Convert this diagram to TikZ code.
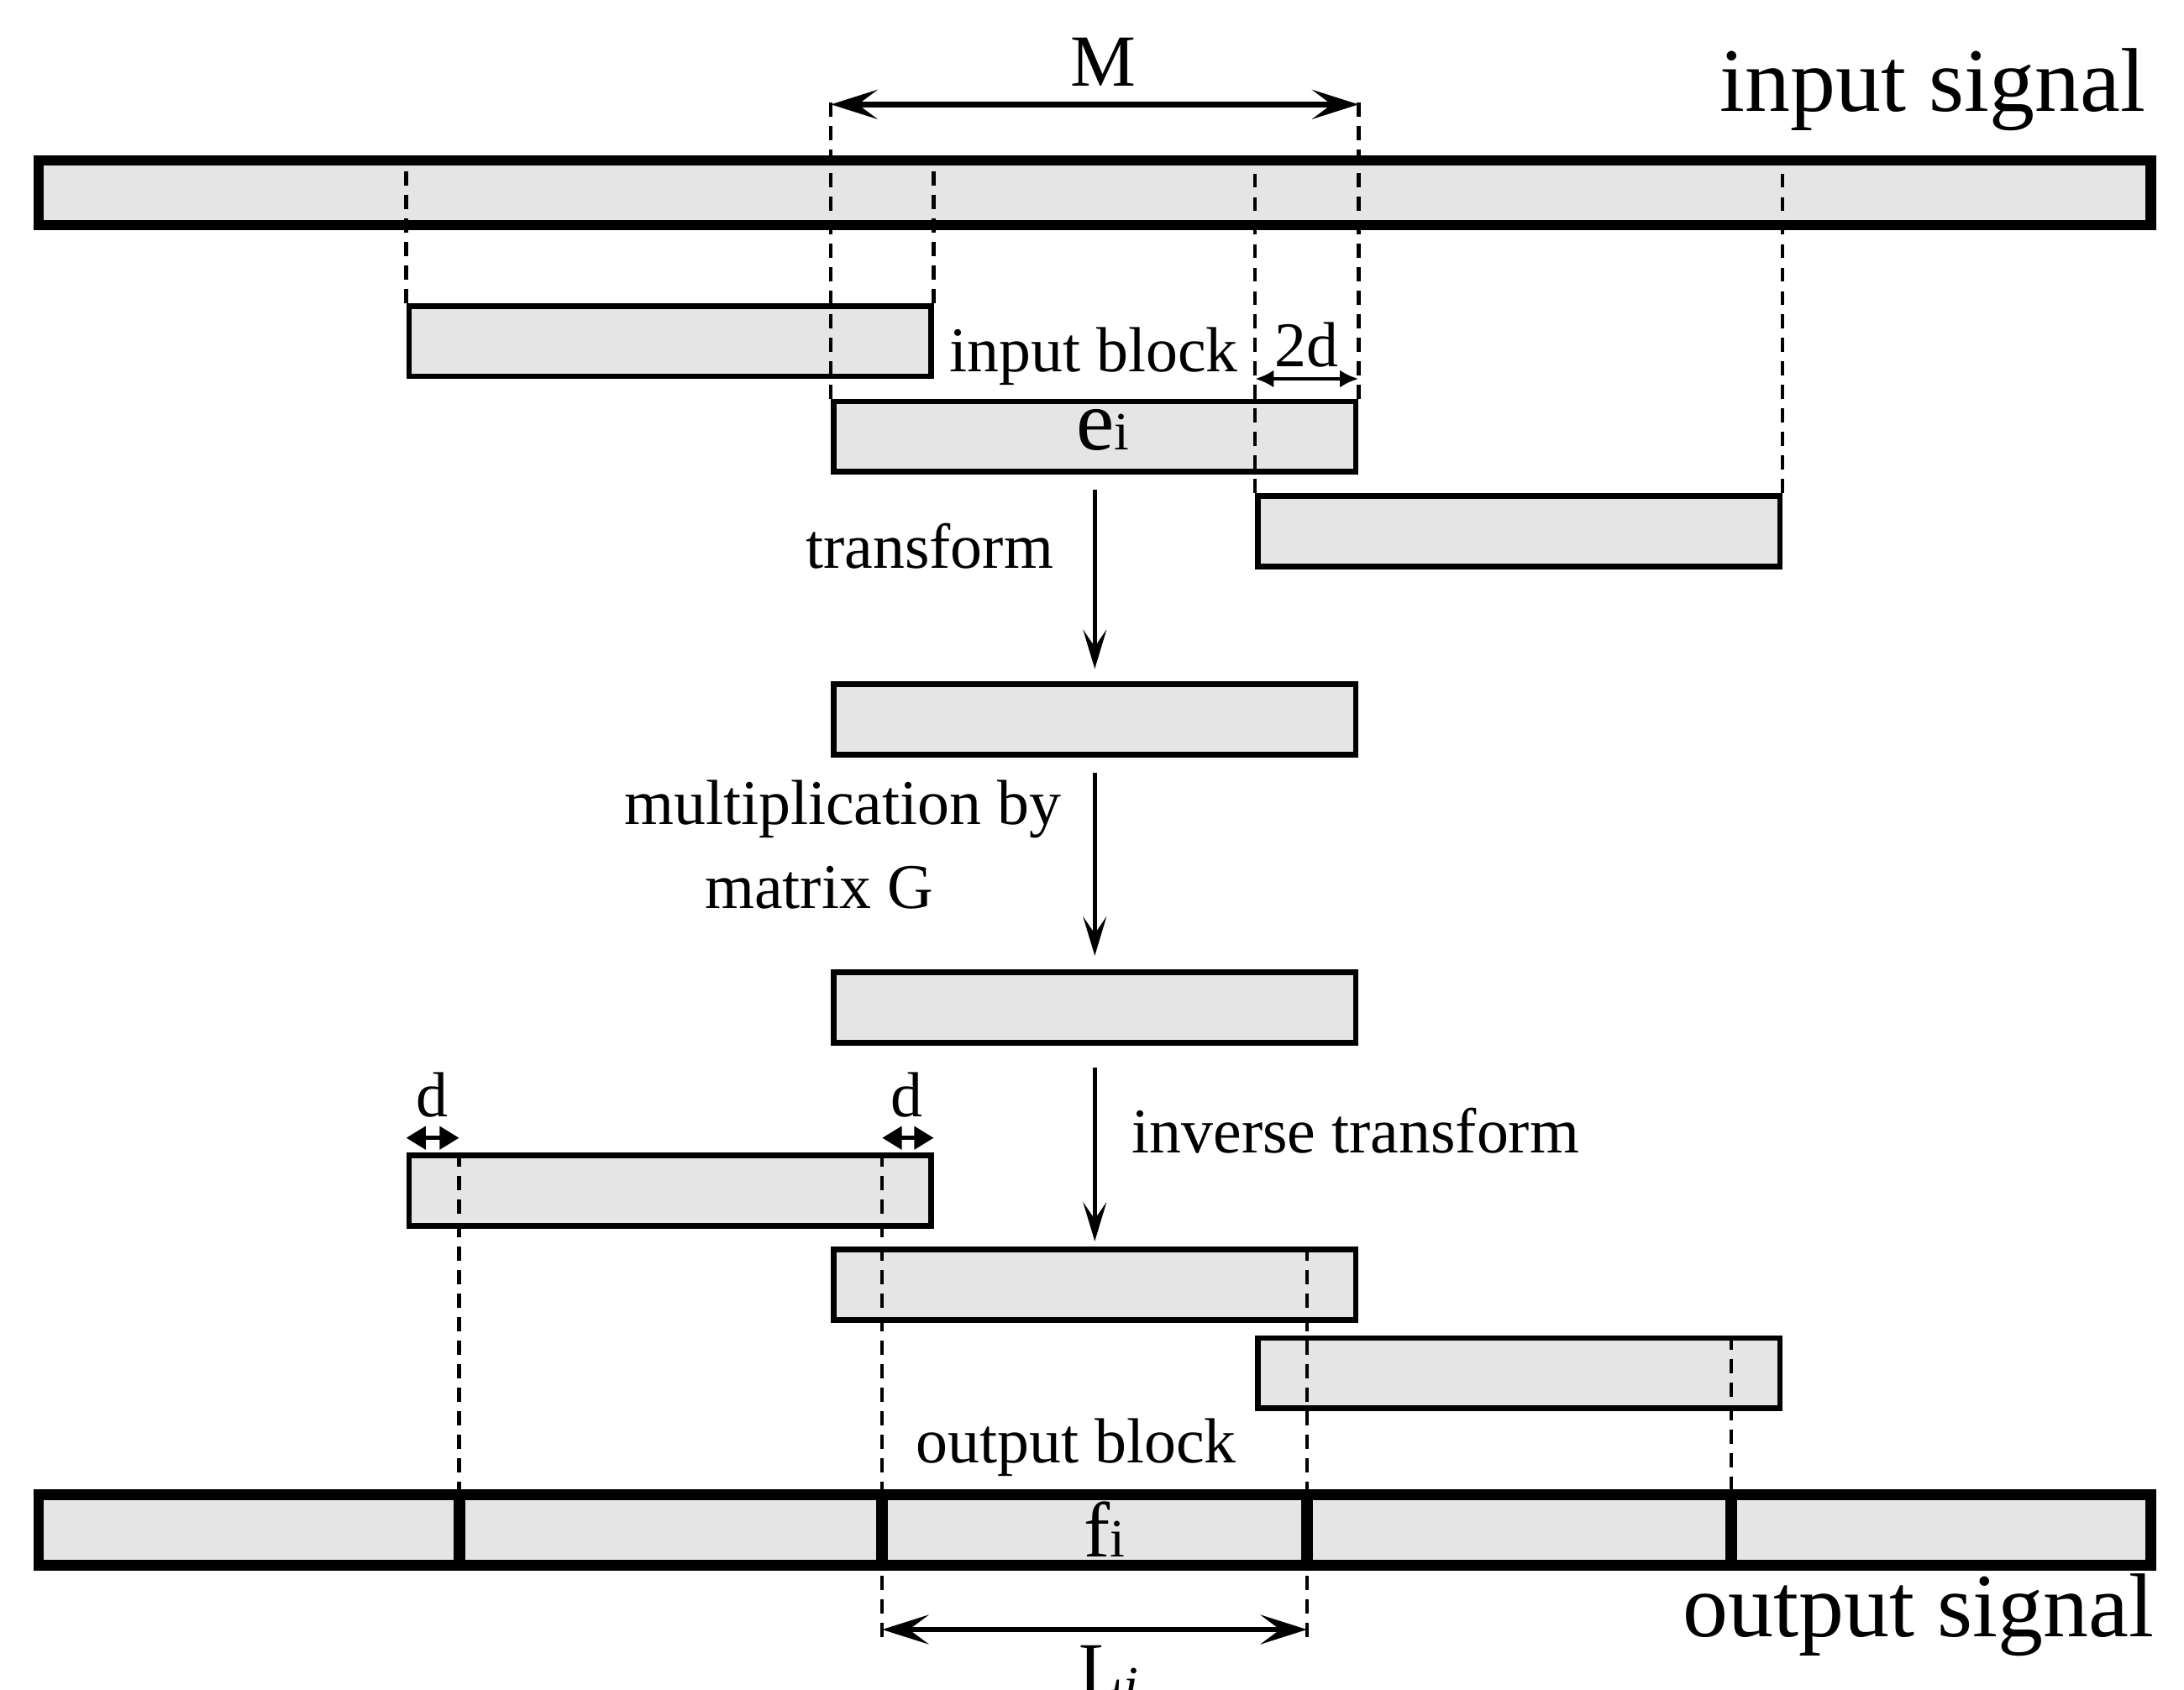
\documentclass[tikz,border=0pt]{standalone}
\usepackage{fontspec}
\setmainfont{Liberation Serif}
\usetikzlibrary{arrows.meta}
\definecolor{blockgray}{RGB}{229,229,229}

\begin{document}
\begin{tikzpicture}[x=0.01cm,y=-0.01cm,
  blk/.style={draw=black, line width=1.15pt, fill=blockgray, inner sep=0pt,
              minimum width=3.745cm, minimum height=0.505cm},
  sigbar/.style={draw=black, line width=2.1pt, fill=blockgray, inner sep=0pt,
                 minimum width=15.156cm},
  guideline/.style={line width=0.75pt, dash pattern=on 2.9pt off 1.9pt},
  flowarrow/.style={line width=0.85pt, -{Stealth[length=8pt,width=4.8pt,inset=3.5pt]}},
  dimarrow/.style={line width=1.1pt,
    {Stealth[length=9.5pt,width=6pt,inset=4pt]}-{Stealth[length=9.5pt,width=6pt,inset=4pt]}},
  twodarrow/.style={line width=0.8pt,
    {Latex[length=3.8pt,width=3.6pt]}-{Latex[length=3.8pt,width=3.6pt]}},
  darrow/.style={line width=0.9pt,
    {Triangle[length=4pt,width=4.6pt]}-{Triangle[length=4pt,width=4.6pt]}},
  sepline/.style={line width=2.4pt},
  lbl/.style={font=\fontsize{13}{15}\selectfont, inner sep=0pt},
  bigtext/.style={font=\fontsize{18.5}{22}\selectfont, inner sep=0pt},
]
\useasboundingbox (0,0) rectangle (1568,1213);

% signals and blocks
\node[sigbar, minimum height=0.466cm] (insig) at (786,138.5) {};
\node[blk] (pa) at (481,245) {};
\node[blk] (ei) at (786,313.5) {};
\node[blk] (pc) at (1090.5,381.5) {};
\node[blk] (tr) at (786,516.5) {};
\node[blk] (mg) at (786,723.5) {};
\node[blk] (po) at (481,855) {};
\node[blk] (oi) at (786,922.5) {};
\node[blk] (no) at (1090.5,986) {};
\node[sigbar, minimum height=0.506cm] (outsig) at (786,1098.5) {};

% helper levels
\coordinate (mtop) at (0,70);
\coordinate (mlev) at (0,75);
\coordinate (tdlev) at (0,272);
\coordinate (dlev) at (0,817);
\coordinate (llev) at (0,1170);
\coordinate (lbot) at (0,1177);
\coordinate (d1) at ([xshift=0.38cm]po.north west);
\coordinate (d2) at ([xshift=-0.37cm]po.north east);
\coordinate (d3) at ([xshift=-0.37cm]oi.north east);
\coordinate (d4) at ([xshift=-0.37cm]no.north east);

% dashed guides, upper half
\draw[guideline] (pa.north west) -- (pa.north west |- insig.north);
\draw[guideline] (pa.north east) -- (pa.north east |- insig.north);
\draw[guideline] (ei.north west) -- (ei.north west |- mtop);
\draw[guideline] (ei.north east) -- (ei.north east |- mtop);
\draw[guideline] (pc.north west) -- (pc.north west |- insig.north);
\draw[guideline] (pc.north east) -- (pc.north east |- insig.north);

% dashed guides, lower half
\draw[guideline] (d1) -- (d1 |- outsig.south);
\draw[guideline] (d2) -- (d2 |- lbot);
\draw[guideline] (d3) -- (d3 |- lbot);
\draw[guideline] (d4) -- (d4 |- outsig.north);

% block boundaries in the output signal
\foreach \p in {d1,d2,d3,d4}
  \draw[sepline] (\p |- outsig.north) -- (\p |- outsig.south);

% processing arrows
\draw[flowarrow] ([yshift=-0.11cm]ei.south) -- ([yshift=0.09cm]tr.north);
\draw[flowarrow] ([yshift=-0.11cm]tr.south) -- ([yshift=0.10cm]mg.north);
\draw[flowarrow] ([yshift=-0.16cm]mg.south) -- ([yshift=0.04cm]oi.north);

% dimension arrows
\draw[dimarrow] (ei.north west |- mlev) -- (ei.north east |- mlev);
\draw[dimarrow] (d2 |- llev) -- (d3 |- llev);
\draw[twodarrow] (pc.north west |- tdlev) -- (ei.north east |- tdlev);
\draw[darrow] (po.north west |- dlev) -- (d1 |- dlev);
\draw[darrow] (d2 |- dlev) -- (po.north east |- dlev);

% labels
\node[inner sep=0pt, font=\fontsize{15}{18}\selectfont, anchor=base] (mlab) at (792,62) {M};
\node[bigtext, anchor=base east] (inlab) at (1541,80) {input signal};
\node[lbl, anchor=base west] (iblab) at (681,267) {input block};
\node[lbl, anchor=base] (tdlab) at (938,263) {2d};
\node[inner sep=0pt, anchor=base] (eilab) at (792,323)
  {\fontsize{17.5}{20}\selectfont e\fontsize{11}{13}\selectfont i};
\node[lbl, anchor=base east] (trlab) at (757,408) {transform};
\node[lbl, anchor=base] (mglab1) at (605,592) {multiplication by};
\node[lbl, anchor=base] (mglab2) at (588,652) {matrix G};
\node[lbl, anchor=base west] (itlab) at (812,828) {inverse transform};
\node[lbl, anchor=base] (dlab1) at (310,802) {d};
\node[lbl, anchor=base] (dlab2) at (651,802) {d};
\node[lbl, anchor=base west] (oblab) at (657,1050) {output block};
\node[inner sep=0pt, anchor=base] (filab) at (793,1118)
  {\fontsize{16}{19}\selectfont f\fontsize{11}{13}\selectfont i};
\node[bigtext, anchor=base east] (outlab) at (1547,1175) {output signal};
\node[inner sep=0pt, font=\fontsize{15}{18}\selectfont, anchor=base] (llab) at (796,1216)
  {L\raisebox{-0.3ex}{\fontsize{11}{13}\selectfont\itshape i}};
\end{tikzpicture}
\end{document}
